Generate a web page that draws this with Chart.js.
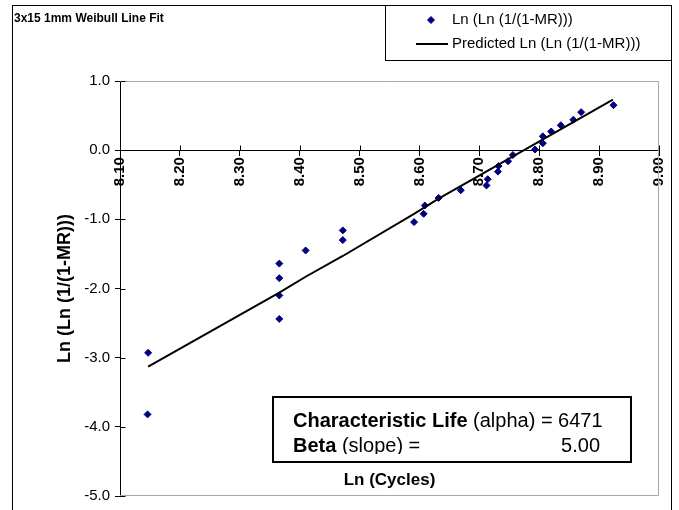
<!DOCTYPE html>
<html>
<head>
<meta charset="utf-8">
<script src="https://cdn.jsdelivr.net/npm/chart.js@4/dist/chart.umd.min.js"></script>
<style>
  html, body { margin: 0; padding: 0; background: #fff; }
</style>
</head>
<body>
<canvas id="chart" width="679" height="510"></canvas>
<script>
const chartTitle = '3x15 1mm Weibull Line Fit';
const seriesNames = ['Ln (Ln (1/(1-MR)))', 'Predicted Ln (Ln (1/(1-MR)))'];
const xTitle = 'Ln (Cycles)';
const yTitle = 'Ln (Ln (1/(1-MR)))';

// observed points
const lnCycles = [8.146, 8.147, 8.366, 8.366, 8.366, 8.366, 8.410, 8.472, 8.472, 8.591,
                  8.607, 8.609, 8.632, 8.669, 8.712, 8.714, 8.731, 8.732, 8.748, 8.756,
                  8.793, 8.806, 8.806, 8.820, 8.836, 8.857, 8.870, 8.924];
const lnLnMR = [-3.82, -2.93, -2.44, -2.10, -1.85, -1.64, -1.45, -1.30, -1.16, -1.04,
                -0.92, -0.80, -0.69, -0.58, -0.51, -0.42, -0.31, -0.23, -0.16, -0.07,
                0.01, 0.10, 0.20, 0.27, 0.36, 0.44, 0.55, 0.65];

// predicted line
const fitX = [8.147, 8.366, 8.410, 8.472, 8.591, 8.632, 8.732, 8.793, 8.923];
const fitY = [-3.13, -2.06, -1.83, -1.53, -0.92, -0.70, -0.21, 0.09, 0.73];

const alphaValue = 6471;
const betaValue = '5.00';

const font = 'Liberation Sans, Arial, sans-serif';

function fnt(size, bold) {
    return (bold ? 'bold ' : '') + size + 'px ' + font;
}

const decorations = {
    id: 'decorations',
    beforeDatasetsDraw(chart) {
        const { ctx, chartArea: a, scales } = chart;
        ctx.save();
        // plot area border (grey on top, right, bottom)
        ctx.strokeStyle = '#a8a8a8';
        ctx.lineWidth = 1;
        ctx.beginPath();
        ctx.moveTo(a.left, a.top + 0.5);
        ctx.lineTo(a.right - 0.5, a.top + 0.5);
        ctx.lineTo(a.right - 0.5, a.bottom - 0.5);
        ctx.lineTo(a.left, a.bottom - 0.5);
        ctx.stroke();

        // inner half of the tick marks (ticks cross the axes)
        ctx.strokeStyle = '#000';
        const y0 = Math.round(scales.y.getPixelForValue(0)) + 0.5;
        scales.x.ticks.forEach(t => {
            const px = Math.round(scales.x.getPixelForValue(t.value)) + 0.5;
            ctx.beginPath();
            ctx.moveTo(px, y0 - 5);
            ctx.lineTo(px, y0);
            ctx.stroke();
        });
        const x0 = Math.round(a.left) + 0.5;
        scales.y.ticks.forEach(t => {
            const py = Math.round(scales.y.getPixelForValue(t.value)) + 0.5;
            ctx.beginPath();
            ctx.moveTo(x0, py);
            ctx.lineTo(x0 + 5, py);
            ctx.stroke();
        });
        ctx.restore();
    },
    afterDraw(chart) {
        const { ctx, chartArea: a } = chart;
        ctx.save();

        // outer frame
        ctx.strokeStyle = '#000';
        ctx.lineWidth = 1;
        ctx.strokeRect(12.5, 5.5, 659, 520);

        // title
        ctx.fillStyle = '#000';
        ctx.font = fnt(12, true);
        ctx.textBaseline = 'middle';
        ctx.textAlign = 'left';
        ctx.fillText(chartTitle, 14, 19);

        // legend
        ctx.fillStyle = '#fff';
        ctx.fillRect(385, 5, 286, 55);
        ctx.strokeStyle = '#000';
        ctx.strokeRect(385.5, 5.5, 286, 55);
        const pts = chart.data.datasets[0];
        ctx.fillStyle = pts.pointBackgroundColor;
        ctx.strokeStyle = pts.pointBorderColor;
        Chart.helpers.drawPoint(ctx, { pointStyle: 'rectRot', radius: 3.5, borderWidth: 1 }, 431, 20);
        ctx.strokeStyle = '#000';
        ctx.lineWidth = 2;
        ctx.beginPath();
        ctx.moveTo(416, 44);
        ctx.lineTo(448, 44);
        ctx.stroke();
        ctx.fillStyle = '#000';
        ctx.font = fnt(15, false);
        ctx.fillText(chart.data.datasets[0].label, 452, 20);
        ctx.fillText(chart.data.datasets[1].label, 452, 44);

        // axis titles
        ctx.textAlign = 'center';
        ctx.font = fnt(17, true);
        ctx.fillText(xTitle, (a.left + a.right) / 2, 480);
        ctx.save();
        ctx.translate(65, (a.top + a.bottom) / 2);
        ctx.rotate(-Math.PI / 2);
        ctx.font = fnt(18, true);
        ctx.fillText(yTitle, 0, 0);
        ctx.restore();

        // parameter box
        const bx = 273, by = 397, bw = 358, bh = 65;
        ctx.fillStyle = '#fff';
        ctx.fillRect(bx, by, bw, bh);
        ctx.strokeStyle = '#000';
        ctx.lineWidth = 2;
        ctx.strokeRect(bx, by, bw, bh);
        ctx.save();
        ctx.beginPath();
        ctx.rect(bx + 1, by + 1, bw - 2, bh - 9);
        ctx.clip();
        ctx.fillStyle = '#000';
        ctx.textAlign = 'left';
        ctx.textBaseline = 'alphabetic';
        let tx = 293;
        ctx.font = fnt(20, true);
        ctx.fillText('Characteristic Life', tx, 427);
        tx += ctx.measureText('Characteristic Life').width;
        ctx.font = fnt(20, false);
        ctx.fillText(' (alpha) = ' + alphaValue, tx, 427);
        tx = 293;
        ctx.font = fnt(20, true);
        ctx.fillText('Beta', tx, 452);
        tx += ctx.measureText('Beta').width;
        ctx.font = fnt(20, false);
        ctx.fillText(' (slope) =', tx, 452);
        ctx.textAlign = 'right';
        ctx.fillText(betaValue, 600, 452);
        ctx.restore();

        ctx.restore();
    }
};

const ctx = document.getElementById('chart').getContext('2d');

new Chart(ctx, {
    type: 'scatter',
    data: {
        datasets: [{
            label: seriesNames[0],
            data: lnCycles.map((x, i) => ({ x: x, y: lnLnMR[i] })),
            pointStyle: 'rectRot',
            pointRadius: 3.5,
            pointBorderWidth: 1,
            pointBackgroundColor: '#000080',
            pointBorderColor: '#000080',
            showLine: false,
            order: 1
        }, {
            label: seriesNames[1],
            data: fitX.map((x, i) => ({ x: x, y: fitY[i] })),
            showLine: true,
            borderColor: '#000',
            borderWidth: 2,
            pointRadius: 0,
            fill: false,
            order: 0
        }]
    },
    options: {
        responsive: false,
        animation: false,
        devicePixelRatio: 1,
        layout: { padding: { left: 0, top: 81, right: 19, bottom: 12.5 } },
        plugins: {
            legend: { display: false },
            tooltip: { enabled: false },
            title: { display: false }
        },
        scales: {
            x: {
                type: 'linear',
                min: 8.1,
                max: 9.0,
                position: { y: 0 },
                ticks: {
                    stepSize: 0.1,
                    callback: v => v.toFixed(2),
                    minRotation: 90,
                    maxRotation: 90,
                    color: '#000',
                    padding: 2,
                    font: { family: font, size: 15, weight: 'bold' }
                },
                grid: { drawOnChartArea: false, color: '#000', tickLength: 5 },
                border: { color: '#000' }
            },
            y: {
                min: -5,
                max: 1,
                ticks: {
                    stepSize: 1,
                    callback: v => v.toFixed(1),
                    color: '#000',
                    padding: 5,
                    font: { family: font, size: 15 }
                },
                grid: { drawOnChartArea: false, color: '#000', tickLength: 5 },
                border: { color: '#000' },
                afterFit(scale) { scale.width = 120; }
            }
        }
    },
    plugins: [decorations]
});
</script>
</body>
</html>
